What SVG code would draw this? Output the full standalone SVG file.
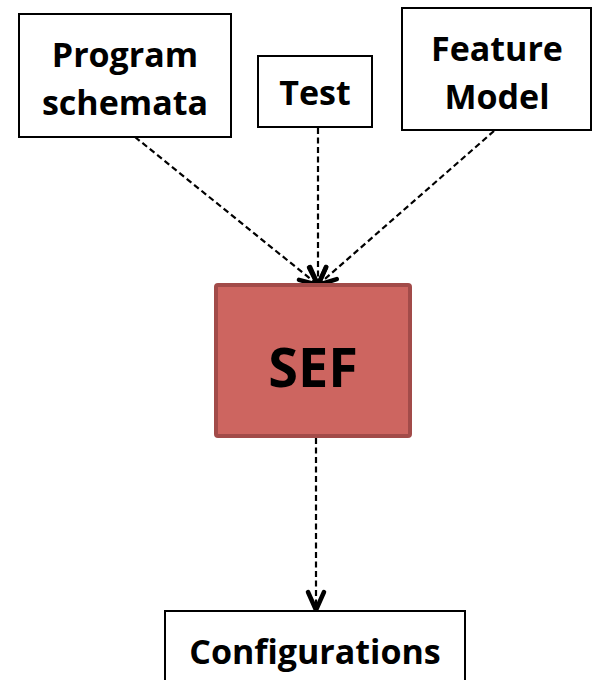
<svg xmlns="http://www.w3.org/2000/svg" width="594" height="680" viewBox="0 0 594 680">
<defs>
<marker id="arr2" markerWidth="26" markerHeight="26" viewBox="0 0 26 26" refX="22" refY="13" orient="auto" markerUnits="userSpaceOnUse">
<path d="M4,5 L22,13 L4,21" fill="none" stroke="#000" stroke-width="4.5" stroke-linecap="round" stroke-linejoin="round"/>
</marker>
</defs>
<style>
.box{fill:#fff;stroke:#000;stroke-width:2}
.lbl{font-family:"Open Sans","Liberation Sans",sans-serif;font-weight:bold;font-size:34px;fill:#000;text-anchor:middle}
.edge{fill:none;stroke:#000;stroke-width:2.2;stroke-dasharray:6,3.5}
</style>
<rect width="594" height="680" fill="#fff"/>
<g id="edges">
<path class="edge" d="M135,137 L318,285" marker-end="url(#arr2)"/>
<path class="edge" d="M318,128 L318,285" marker-end="url(#arr2)"/>
<path class="edge" d="M494,131 L318,285" marker-end="url(#arr2)"/>
<path class="edge" d="M316,438 L316,610" marker-end="url(#arr2)"/>
</g>
<g id="program-schemata">
<rect class="box" x="19" y="14" width="212" height="123"/>
<text class="lbl" x="125" y="67">Program</text>
<text class="lbl" x="125" y="115">schemata</text>
</g>
<g id="test">
<rect class="box" x="258" y="56" width="114" height="71"/>
<text class="lbl" x="315" y="105">Test</text>
</g>
<g id="feature-model">
<rect class="box" x="402" y="8" width="189" height="122"/>
<text class="lbl" x="497" y="61">Feature</text>
<text class="lbl" x="497" y="109">Model</text>
</g>
<g id="sef">
<rect x="216" y="285" width="194" height="151" fill="#CD6560" stroke="#A24B49" stroke-width="4" rx="2"/>
<text class="lbl" x="313" y="387" style="font-size:54px">SEF</text>
</g>
<g id="configurations">
<rect class="box" x="165" y="611" width="300" height="80"/>
<text class="lbl" x="315" y="664">Configurations</text>
</g>
</svg>
